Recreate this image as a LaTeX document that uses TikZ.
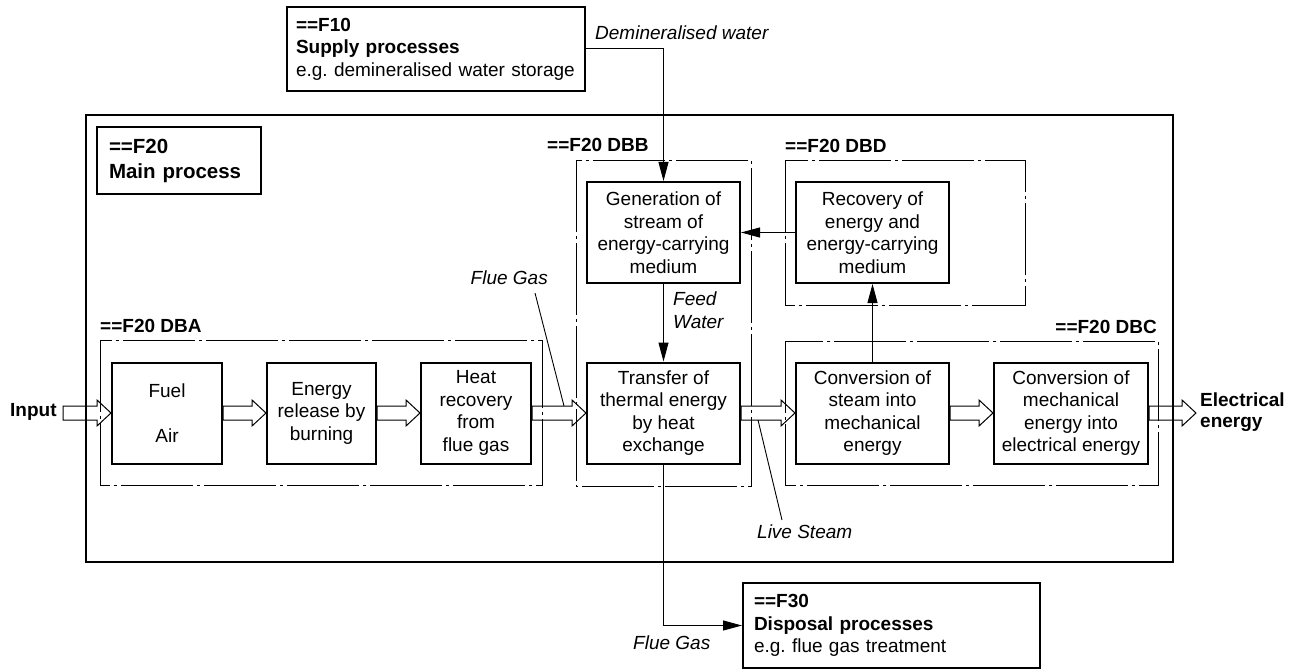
\documentclass[tikz,border=0pt]{standalone}
\usepackage{fontspec}
\setmainfont{Liberation Sans}
\usetikzlibrary{arrows.meta,calc}
\frenchspacing
\tikzset{
  x=1pt,y=-1pt,
  fnt/.style={font=\fontsize{19}{22.5}\selectfont},
  box/.style={draw,line width=2pt,align=center,inner sep=0pt,fnt,minimum width=153pt,minimum height=101pt},
  infobox/.style={draw,line width=2pt,align=left,inner sep=0pt,fnt},
  frame/.style={draw,line width=2pt},
  dd/.style={draw,line width=0.9pt,dash pattern=on 72pt off 4pt on 3pt off 4pt},
  grp/.style={font=\fontsize{19}{22.5}\selectfont\bfseries,inner sep=0pt},
  lbl/.style={font=\fontsize{19}{22.5}\selectfont\itshape,inner sep=0pt,align=left},
  conn/.style={draw,line width=1pt,-{Triangle[length=19pt,width=10pt]}},
  leader/.style={draw,line width=0.9pt},
  harrow/.style={draw,line width=1pt,line join=miter},
}
\newcommand\hollowarrow[2]{%
  \draw[harrow] ($(#1)+(0,7)$) -- ($(#2)+(-14,7)$) -- ($(#2)+(-14,13)$) -- (#2)
    -- ($(#2)+(-14,-13)$) -- ($(#2)+(-14,-7)$) -- ($(#1)+(0,-7)$) -- cycle;}
\begin{document}
\begin{tikzpicture}
\useasboundingbox (0,0) rectangle (1295,671);
% main frame
\draw[frame] (86,115) rectangle (1173,562);
% group outlines
\draw[dd] (100,340) rectangle (542,485);
\draw[dd] (576,160) rectangle (751,486);
\draw[dd] (785,160) rectangle (1025,305);
\draw[dd] (785,341) rectangle (1158,485);
\node[grp,anchor=west] (dbaL) at (100,326) {==F20 DBA};
\node[grp,anchor=west] (dbbL) at (547,145) {==F20 DBB};
\node[grp,anchor=west] (dbdL) at (785,146) {==F20 DBD};
\node[grp,anchor=east] (dbcL) at (1157,327) {==F20 DBC};
% info boxes
\node[infobox,minimum width=298pt,minimum height=84pt,text width=280pt] (f10) at (436,49)
  {\hyphenpenalty=10000\textbf{==F10}\\\textbf{Supply processes}\\e.g. demineralised water storage};
\node[infobox,minimum width=164pt,minimum height=67pt,text width=140pt,
  font=\fontsize{20.5}{25}\selectfont\bfseries] (f20) at (179,160.5) {==F20\\Main process};
\node[infobox,minimum width=297pt,minimum height=85pt,text width=275pt] (f30) at (891.5,625.5)
  {\textbf{==F30}\\\textbf{Disposal processes}\\e.g. flue gas treatment};
% process boxes
\node[box,minimum width=110pt] (fuel) at (167,413) {Fuel\\[22pt]Air};
\node[box,minimum width=109pt] (burn) at (321.5,413) {Energy\\release by\\burning};
\node[box,minimum width=110pt] (heat) at (476,413) {Heat\\recovery\\from\\flue gas};
\node[box] (trans) at (663.5,413) {Transfer of\\thermal energy\\by heat\\exchange};
\node[box] (gen) at (663.5,232.5) {Generation of\\stream of\\energy-carrying\\medium};
\node[box] (rec) at (872.5,232.5) {Recovery of\\energy and\\energy-carrying\\medium};
\node[box] (steam) at (872.5,413) {Conversion of\\steam into\\mechanical\\energy};
\node[box,minimum width=154pt] (elec) at (1071,413) {Conversion of\\mechanical\\energy into\\electrical energy};
% terminals
\node[grp,anchor=west] (input) at (10,412) {Input};
\node[grp,anchor=west,align=left,font=\fontsize{19}{21}\selectfont\bfseries] (out) at (1200,412) {Electrical\\energy};
\coordinate (inTail) at (63,413);
\coordinate (outTip) at (1196,413);
% hollow flow arrows
\hollowarrow{inTail}{fuel.west}
\hollowarrow{fuel.east}{burn.west}
\hollowarrow{burn.east}{heat.west}
\hollowarrow{heat.east}{trans.west}
\hollowarrow{trans.east}{steam.west}
\hollowarrow{steam.east}{elec.west}
\hollowarrow{elec.east}{outTip}
% thin connectors
\draw[conn] (f10.east) -| (gen.north);
\draw[conn] (gen.south) -- (trans.north);
\draw[conn] (rec.west) -- (gen.east);
\draw[conn] (steam.north) -- (rec.south);
\draw[conn] (trans.south) |- (f30.west);
% labels
\node[lbl,anchor=west] (demin) at (595,33) {Demineralised water};
\node[lbl,anchor=east] (flue1) at (548,278) {Flue Gas};
\node[lbl,anchor=west] (feed) at (673,310) {Feed\\Water};
\node[lbl,anchor=west] (live) at (757,532) {Live Steam};
\node[lbl,anchor=west] (flue2) at (633,643) {Flue Gas};
\coordinate (fgA) at (535,293);
\coordinate (fgB) at (564,406);
\draw[leader] (fgA) -- (fgB);
\coordinate (lsA) at (758,420);
\coordinate (lsB) at (782,520);
\draw[leader] (lsA) -- (lsB);
\end{tikzpicture}
\end{document}
